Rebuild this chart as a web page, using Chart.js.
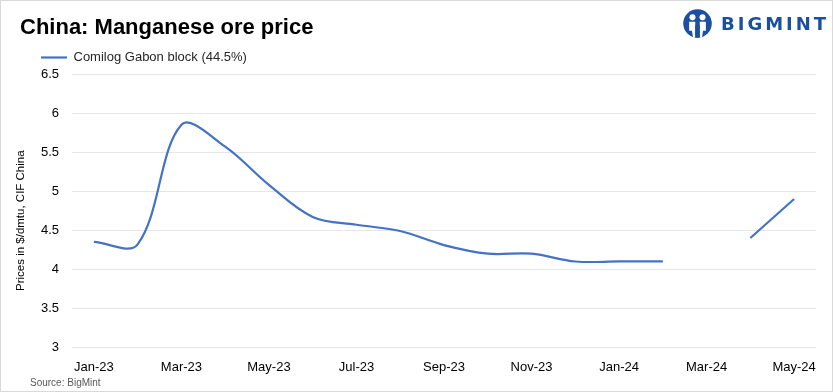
<!DOCTYPE html>
<html>
<head>
<meta charset="utf-8">
<script src="https://cdn.jsdelivr.net/npm/chart.js@4"></script>
<style>
  html, body { margin: 0; padding: 0; background: #fff; }
  #frame { position: relative; width: 833px; height: 392px; box-sizing: border-box; border: 1px solid #d9d9d9; overflow: hidden; font-family: "Liberation Sans", Arial, sans-serif; }
  #title { position: absolute; left: 19px; top: 13px; font-size: 22px; font-weight: bold; color: #000; white-space: nowrap; }
  #source { position: absolute; left: 29px; top: 376px; font-size: 10px; color: #595959; }
  #logo { position: absolute; left: 682px; top: 7px; height: 30px; display: flex; align-items: center; }
  #logo span { font-size: 18px; font-weight: bold; color: #1b4f9f; letter-spacing: 3px; margin-left: 9px; font-family: "DejaVu Sans", sans-serif; }
  #wrap { position: absolute; left: 0; top: 0; width: 833px; height: 392px; }
</style>
</head>
<body>
<div id="frame">
  <div id="wrap"><canvas id="c" width="833" height="392"></canvas></div>
  <div id="title">China: Manganese ore price</div>
  <div id="logo">
    <svg width="29" height="29" viewBox="0 0 26 26">
      <circle cx="13" cy="13" r="12.8" fill="#1b4f9f"/>
      <circle cx="8.5" cy="7.5" r="2.7" fill="#fff"/>
      <circle cx="17.5" cy="7.5" r="2.7" fill="#fff"/>
      <path d="M5.5 11.5 h5.5 v14 h-2 l-1 -6 h-2.5z M15 11.5 h5.5 v8 h-2.5 l-1 6 h-2z" fill="#fff"/>
      <path d="M11 13.5 l2 5 l2 -5 v12 h-4z" fill="#1b4f9f"/>
    </svg>
    <span>BIGMINT</span>
  </div>
  <div id="source">Source: BigMint</div>
</div>
<script>
const categories = ["Jan-23","Feb-23","Mar-23","Apr-23","May-23","Jun-23","Jul-23","Aug-23","Sep-23","Oct-23","Nov-23","Dec-23","Jan-24","Feb-24","Mar-24","Apr-24","May-24"];
const comilogGabon = [4.35, 4.32, 5.85, 5.57, 5.08, 4.67, 4.57, 4.49, 4.31, 4.2, 4.2, 4.1, 4.1, 4.1, null, 4.4, 4.9];
const seriesName = "Comilog Gabon block (44.5%)";
const yTickValues = [3, 3.5, 4, 4.5, 5, 5.5, 6, 6.5];
const yAxisTitle = "Prices in $/dmtu, CIF China";

const FONT = "'Liberation Sans', Arial, sans-serif";

const yTitlePlugin = {
  id: 'yTitle',
  afterDraw(chart) {
    const ctx = chart.ctx;
    const ca = chart.chartArea;
    const cy = (ca.top + ca.bottom) / 2 + 10;
    ctx.save();
    ctx.translate(20, cy);
    ctx.rotate(-Math.PI / 2);
    ctx.fillStyle = '#000';
    ctx.font = "11.5px " + FONT;
    ctx.textAlign = 'center';
    ctx.textBaseline = 'middle';
    ctx.fillText(yAxisTitle, 0, 0);
    ctx.restore();
  }
};

new Chart(document.getElementById('c'), {
  type: 'line',
  data: {
    labels: categories,
    datasets: [{
      label: seriesName,
      data: comilogGabon,
      borderColor: '#4472C4',
      backgroundColor: '#4472C4',
      borderWidth: 2.2,
      pointRadius: 0,
      tension: 0.35,
      spanGaps: false,
      fill: false
    }]
  },
  plugins: [yTitlePlugin],
  options: {
    responsive: false,
    animation: false,
    layout: { padding: { left: 12, right: 18, top: 22, bottom: 6 } },
    plugins: {
      title: { display: false },
      tooltip: { enabled: false },
      legend: {
        display: true,
        position: 'top',
        align: 'start',
        labels: {
          usePointStyle: true,
          pointStyle: 'line',
          pointStyleWidth: 26,
          padding: 28,
          color: '#262626',
          font: { family: FONT, size: 13 }
        }
      }
    },
    scales: {
      x: {
        offset: true,
        grid: { display: false, drawTicks: false },
        border: { display: false },
        ticks: {
          autoSkip: false,
          maxRotation: 0,
          padding: 12,
          color: '#000',
          font: { family: FONT, size: 13 },
          callback: function(v, i) { return i % 2 === 0 ? categories[i] : ''; }
        }
      },
      y: {
        min: 3,
        max: 6.5,
        afterFit: s => { s.width = 59; },
        afterBuildTicks: s => { s.ticks = yTickValues.map(v => ({ value: v })); },
        grid: { color: '#e6e6e6', lineWidth: 1, drawTicks: false },
        border: { display: false },
        ticks: {
          padding: 13,
          color: '#000',
          font: { family: FONT, size: 13 },
          callback: v => String(v)
        },
        title: { display: false }
      }
    }
  }
});
</script>
</body>
</html>
